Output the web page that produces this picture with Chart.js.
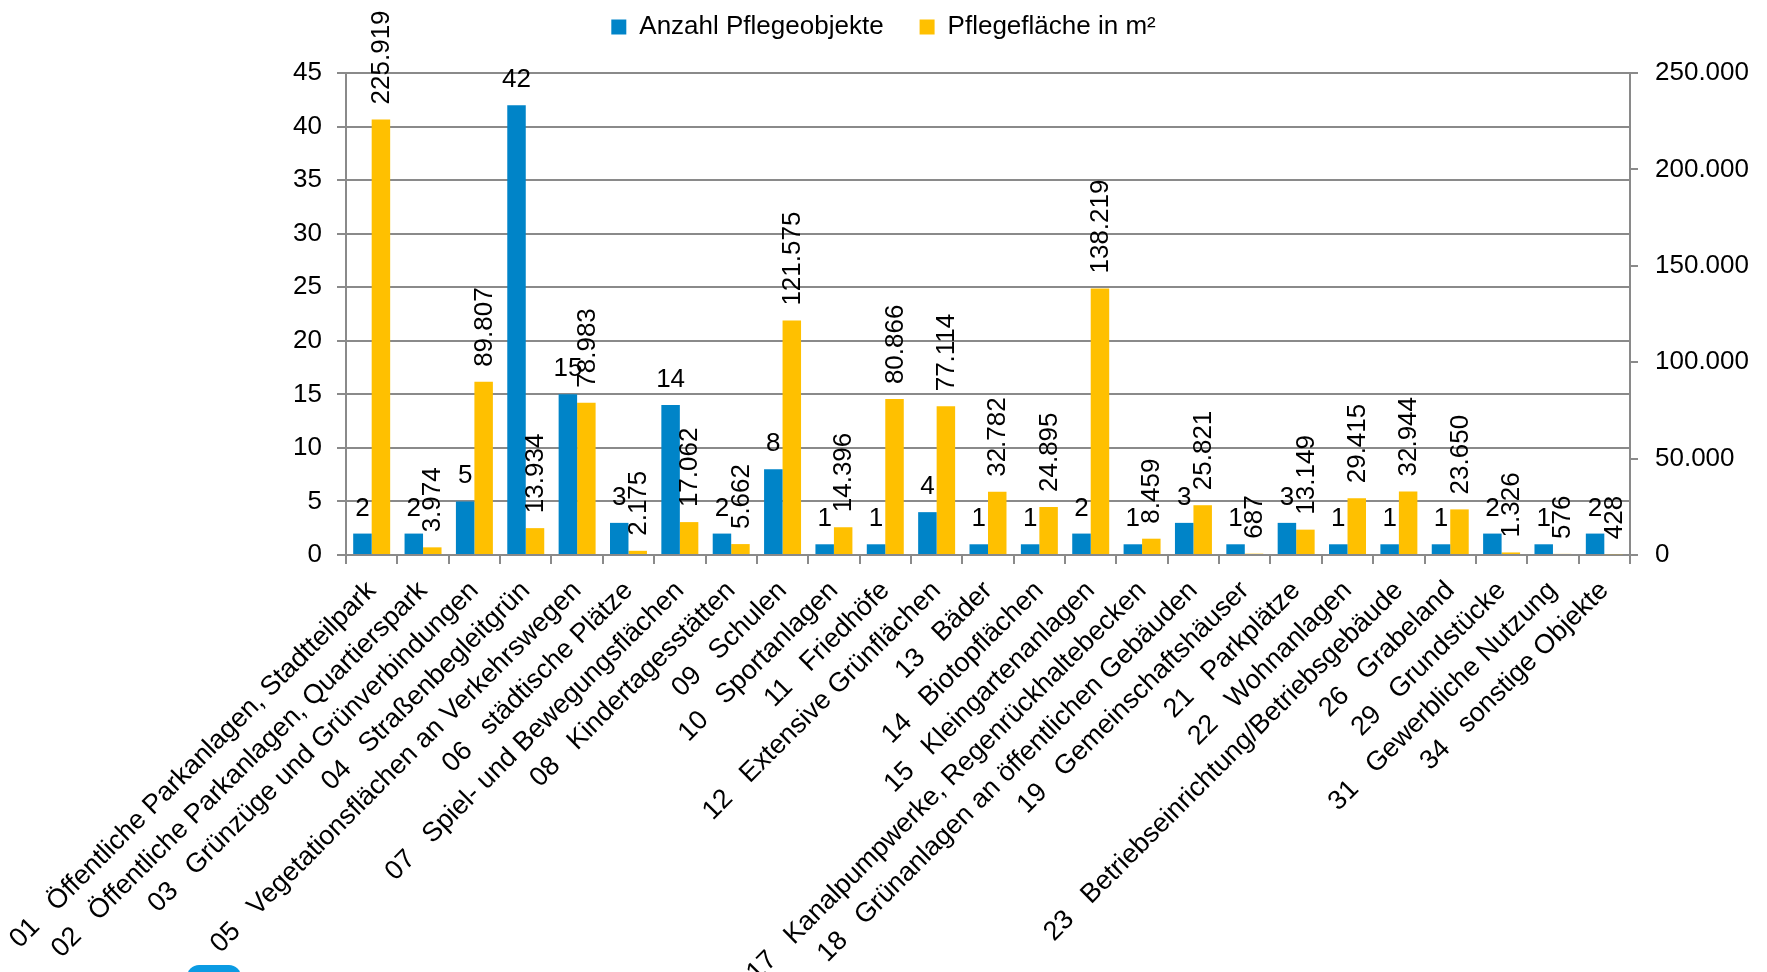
<!DOCTYPE html>
<html>
<head>
<meta charset="utf-8">
<script src="https://cdn.jsdelivr.net/npm/chart.js@4"></script>
<style>
  body { margin: 0; background: #fff; }
  #wrap { position: relative; width: 1767px; height: 972px; overflow: hidden; }
  #blob { position: absolute; left: 187px; top: 965px; width: 54px; height: 24px; border-radius: 12px; background: #0b9be3; }
</style>
</head>
<body>
<div id="wrap">
  <canvas id="chart" width="1767" height="972"></canvas>
  <div id="blob"></div>
</div>
<script>
// Kategorien
const categories = [
    '01   Öffentliche Parkanlagen, Stadtteilpark',
    '02   Öffentliche Parkanlagen, Quartierspark',
    '03   Grünzüge und Grünverbindungen',
    '04   Straßenbegleitgrün',
    '05   Vegetationsflächen an Verkehrswegen',
    '06   städtische Plätze',
    '07   Spiel- und Bewegungsflächen',
    '08   Kindertagesstätten',
    '09   Schulen',
    '10   Sportanlagen',
    '11   Friedhöfe',
    '12   Extensive Grünflächen',
    '13   Bäder',
    '14   Biotopflächen',
    '15   Kleingartenanlagen',
    '17   Kanalpumpwerke, Regenrückhaltebecken',
    '18   Grünanlagen an öffentlichen Gebäuden',
    '19   Gemeinschaftshäuser',
    '21   Parkplätze',
    '22   Wohnanlagen',
    '23   Betriebseinrichtung/Betriebsgebäude',
    '26   Grabeland',
    '29   Grundstücke',
    '31   Gewerbliche Nutzung',
    '34   sonstige Objekte'
];

// Anzahl Pflegeobjekte (linke Achse)
const anzahl = [2, 2, 5, 42, 15, 3, 14, 2, 8, 1, 1, 4, 1, 1, 2, 1, 3, 1, 3, 1, 1, 1, 2, 1, 2];

// Pflegefläche in m² (rechte Achse)
const flaeche = [225919, 3974, 89807, 13934, 78983, 2175, 17062, 5662, 121575, 14396, 80866, 77114,
    32782, 24895, 138219, 8459, 25821, 687, 13149, 29415, 32944, 23650, 1326, 576, 428];

const BLUE = 'rgb(0,132,200)';
const YELLOW = 'rgb(255,192,0)';
const GRID = '#8a8a8a';
const FONT = '"Liberation Sans", Arial, sans-serif';

// Tausenderpunkt wie im Original
function fmtDe(v) {
    return String(Math.round(v)).replace(/\B(?=(\d{3})+(?!\d))/g, '.');
}

// Datenbeschriftungen über den Balken
const barLabels = {
    id: 'barLabels',
    afterDatasetsDraw(chart) {
        const ctx = chart.ctx;
        ctx.save();
        ctx.font = '26px ' + FONT;
        ctx.fillStyle = '#000';
        chart.data.datasets.forEach((ds, i) => {
            const meta = chart.getDatasetMeta(i);
            meta.data.forEach((bar, j) => {
                const txt = fmtDe(ds.data[j]);
                if (i === 0) {
                    ctx.textAlign = 'center';
                    ctx.textBaseline = 'alphabetic';
                    ctx.fillText(txt, bar.x, bar.y - 18);
                } else {
                    ctx.save();
                    ctx.translate(bar.x + 1, bar.y - 15);
                    ctx.rotate(-Math.PI / 2);
                    ctx.textAlign = 'left';
                    ctx.textBaseline = 'middle';
                    ctx.fillText(txt, 0, 0);
                    ctx.restore();
                }
            });
        });
        ctx.restore();
    }
};

// Legende: Höhe fest, damit der Abstand zwischen den Einträgen größer sein kann
const legendHeight = {
    id: 'legendHeight',
    beforeLayout(chart) {
        const lg = chart.legend;
        if (lg && !lg._patched) {
            const fit = lg.fit;
            lg.fit = function () { fit.call(this); this.height = 95; };
            lg._patched = true;
        }
    }
};

const ctx = document.getElementById('chart').getContext('2d');
new Chart(ctx, {
    type: 'bar',
    data: {
        labels: categories,
        datasets: [
            { label: 'Anzahl Pflegeobjekte', data: anzahl, backgroundColor: BLUE, yAxisID: 'y',
              barPercentage: 1, categoryPercentage: 0.72 },
            { label: 'Pflegefläche in m²', data: flaeche, backgroundColor: YELLOW, yAxisID: 'y1',
              barPercentage: 1, categoryPercentage: 0.72 }
        ]
    },
    options: {
        responsive: false,
        animation: false,
        devicePixelRatio: 1,
        layout: { padding: { left: 0, right: 0, top: -22, bottom: 0 } },
        plugins: {
            legend: {
                position: 'top',
                labels: {
                    color: '#000',
                    font: { family: FONT, size: 26 },
                    boxWidth: 15, boxHeight: 15,
                    padding: 36
                }
            },
            tooltip: { enabled: false }
        },
        scales: {
            x: {
                offset: true,
                grid: { offset: true, drawOnChartArea: false, drawTicks: true, tickLength: 9, color: GRID, lineWidth: 2 },
                border: { color: GRID, width: 2 },
                ticks: { autoSkip: false, minRotation: 45, maxRotation: 45, color: '#000',
                         font: { family: FONT, size: 27 }, padding: 11 },
                afterFit(s) { s.height = 417; s.paddingLeft = 0; s.paddingRight = 0; }
            },
            y: {
                position: 'left',
                min: 0, max: 45,
                ticks: { stepSize: 5, color: '#000', font: { family: FONT, size: 26 }, padding: 15 },
                grid: { color: GRID, lineWidth: 2, tickLength: 9 },
                border: { color: GRID, width: 2 },
                afterFit(s) { s.width = 346; }
            },
            y1: {
                position: 'right',
                min: 0, max: 250000,
                ticks: { stepSize: 50000, color: '#000', font: { family: FONT, size: 26 }, padding: 17,
                         callback: v => fmtDe(v) },
                grid: { drawOnChartArea: false, color: GRID, lineWidth: 2, tickLength: 8 },
                border: { color: GRID, width: 2 },
                afterFit(s) { s.width = 137; }
            }
        }
    },
    plugins: [barLabels, legendHeight]
});
</script>
</body>
</html>
